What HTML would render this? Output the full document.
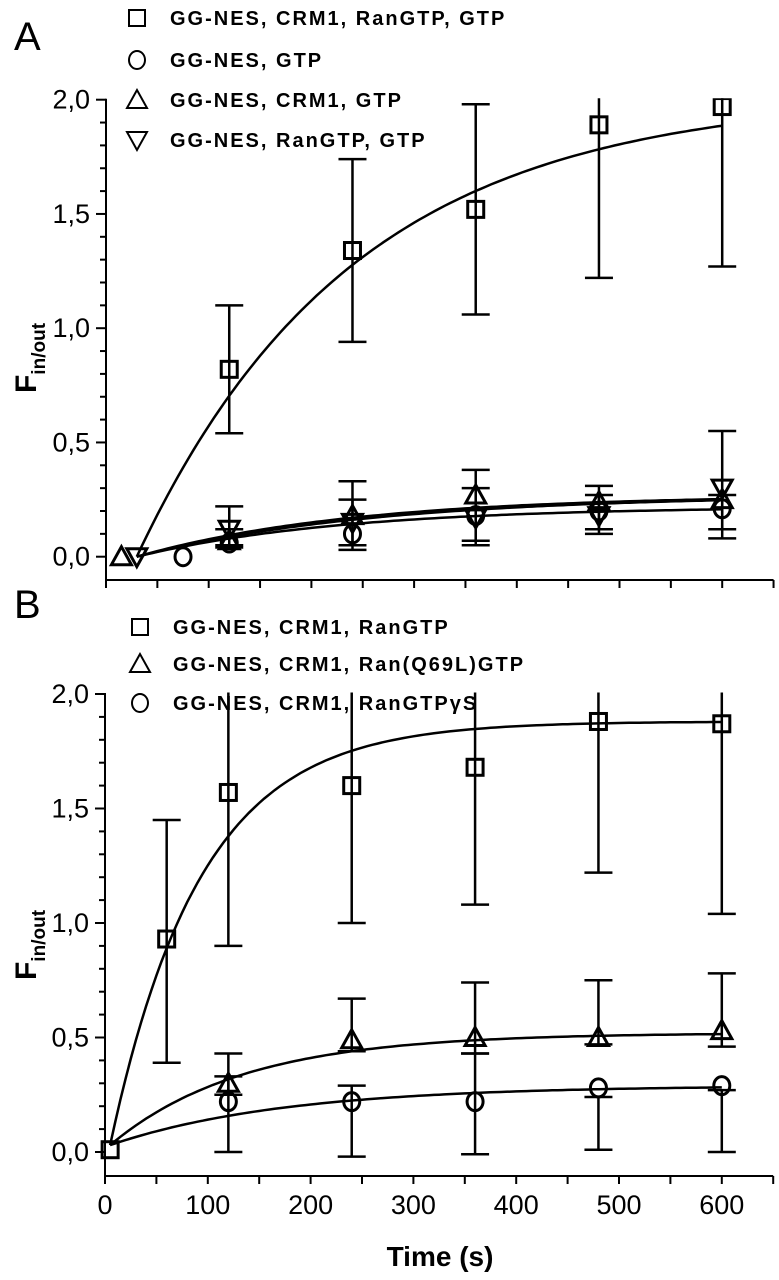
<!DOCTYPE html>
<html><head><meta charset="utf-8"><style>
html,body{margin:0;padding:0;background:#fff;}
svg{display:block;}
text{font-family:"Liberation Sans",sans-serif;fill:#000;}
</style></head><body>
<svg id="fig" width="779" height="1280" viewBox="0 0 779 1280" xmlns="http://www.w3.org/2000/svg"></svg>
<script>
// ---- Panel A data ----
const timesA = [120, 240, 360, 480, 600];
const sqA = [0.82, 1.34, 1.52, 1.89, 1.97];
const sqAlo = [0.54, 0.94, 1.06, 1.22, 1.27];
const sqAhi = [1.10, 1.74, 1.98, 2.56, 2.67];
const ciA = [0.06, 0.10, 0.18, 0.20, 0.21];
const triA = [0.07, 0.18, 0.27, 0.24, 0.25];
const dtriA = [0.12, 0.15, 0.17, 0.18, 0.30];
const errAlo = [0.05, 0.03, 0.05, 0.10, 0.08];
const errAhi = [0.22, 0.33, 0.38, 0.31, 0.55];
const errAlo2 = [0.04, 0.05, 0.07, 0.12, 0.12];
const errAhi2 = [0.12, 0.25, 0.30, 0.27, 0.27];
const earlyA = [[15, 0, 'tri'], [30, 0, 'dtri'], [75, 0, 'circle']];
// fit params [amplitude, tau, t0]
const fitA = [[2.02, 210, 30], [0.27, 210, 30], [0.27, 230, 30], [0.22, 200, 30]];
// ---- Panel B data ----
const timesB = [60, 120, 240, 360, 480, 600];
const sqB = [0.93, 1.57, 1.60, 1.68, 1.88, 1.87];
const sqBlo = [0.39, 0.90, 1.00, 1.08, 1.22, 1.04];
const sqBhi = [1.45, 2.24, 2.20, 2.28, 2.54, 2.70];
const timesB2 = [120, 240, 360, 480, 600];
const triB = [0.30, 0.49, 0.50, 0.50, 0.53];
const triBlo = [0.25, 0.44, 0.43, 0.47, 0.46];
const triBhi = [0.43, 0.67, 0.74, 0.75, 0.78];
const ciB = [0.22, 0.22, 0.22, 0.28, 0.29];
const ciBlo = [0.00, -0.02, -0.01, 0.01, 0.00];
const ciBhi = [0.33, 0.29, 0.43, 0.24, 0.27];
const fitB = [[1.85, 88, 5], [0.49, 130, 5], [0.26, 170, 5]];
const yTicks = [0, 0.5, 1.0, 1.5, 2.0];
const yTickLabels = ['0,0', '0,5', '1,0', '1,5', '2,0'];
const xTicks = [0, 100, 200, 300, 400, 500, 600];

const NS = 'http://www.w3.org/2000/svg';
const svg = document.getElementById('fig');
function mk(tag, attrs, parent) {
  const e = document.createElementNS(NS, tag);
  for (const k in attrs) e.setAttribute(k, attrs[k]);
  (parent || svg).appendChild(e);
  return e;
}
function panel(cfg) {
  const g = mk('g', {});
  
  
  const X = t => cfg.x0 + t * cfg.xs;
  const Y = v => cfg.y0 - v * cfg.ys;
  const top = Y(2.0);
  const clipId = cfg.name + '-clip';
  const cp = mk('clipPath', {id: clipId}, g);
  mk('rect', {x: cfg.x0 - 20, y: top - 1.5, width: 700, height: cfg.axisY - top + 20}, cp);
  // axes
  const ya = mk('line', {x1: cfg.x0, y1: top - 1, x2: cfg.x0, y2: cfg.axisY, stroke: '#000', 'stroke-width': 2}, g);
  
  
  const xa = mk('line', {x1: cfg.x0 - 1, y1: cfg.axisY, x2: X(650), y2: cfg.axisY, stroke: '#000', 'stroke-width': 2}, g);
  
  
  for (let i = 0; i <= 20; i++) {
    const v = i / 10; const yy = Y(v);
    const major = i % 5 === 0;
    mk('line', {x1: cfg.x0 - (major ? 10 : 6), y1: yy, x2: cfg.x0, y2: yy, stroke: '#000', 'stroke-width': 2}, g);
  }
  yTicks.forEach((v, i) => {
    const t = mk('text', {x: cfg.x0 - 16, y: Y(v) + 9, 'font-size': 27, 'text-anchor': 'end'}, g);
    t.textContent = yTickLabels[i];
    
    
  });
  for (let t = 0; t <= 650; t += 50) {
    mk('line', {x1: X(t), y1: cfg.axisY, x2: X(t), y2: cfg.axisY + 8, stroke: '#000', 'stroke-width': 2}, g);
  }
  if (cfg.xLabels) xTicks.forEach(t => {
    const tx = mk('text', {x: X(t), y: cfg.axisY + 38, 'font-size': 27, 'text-anchor': 'middle'}, g);
    tx.textContent = String(t);
    
    
  });
  const yt = mk('text', {transform: `translate(${cfg.titleX},${cfg.titleY}) rotate(-90)`, 'font-size': 30, 'font-weight': 'bold', 'text-anchor': 'middle'}, g);
  
  
  yt.innerHTML = 'F<tspan font-size="19" dy="9">in/out</tspan>';
  const pl = mk('text', {x: 14, y: cfg.letterY, 'font-size': 40}, g);
  pl.textContent = cfg.letter;
  
  
  const plot = mk('g', {'clip-path': `url(#${clipId})`}, g);
  cfg.fits.forEach(f => {
    let d = '';
    for (let t = f[2]; t <= 600; t += 5) {
      const v = f[0] * (1 - Math.exp(-(t - f[2]) / f[1])) + (cfg.fitBase || 0);
      d += (d ? 'L' : 'M') + X(t).toFixed(1) + ',' + Y(v).toFixed(1);
    }
    const p = mk('path', {d, fill: 'none', stroke: '#000', 'stroke-width': 2.5}, plot);
    
    
  });
  return {g, plot, X, Y};
}
function errbar(p, t, lo, hi) {
  const x = p.X(t);
  const e = mk('g', {stroke: '#000', 'stroke-width': 2.5}, p.plot);
  
  
  mk('line', {x1: x, y1: p.Y(lo), x2: x, y2: p.Y(hi)}, e);
  mk('line', {x1: x - 14, y1: p.Y(lo), x2: x + 14, y2: p.Y(lo)}, e);
  mk('line', {x1: x - 14, y1: p.Y(hi), x2: x + 14, y2: p.Y(hi)}, e);
}
function marker(parent, x, y, type) {
  let m;
  const st = {fill: 'none', stroke: '#000', 'stroke-width': 3};
  if (type === 'square') m = mk('rect', Object.assign({x: x - 8, y: y - 8, width: 16, height: 16}, st), parent);
  else if (type === 'circle') m = mk('ellipse', Object.assign({cx: x, cy: y, rx: 8, ry: 9}, st), parent);
  else if (type === 'tri') m = mk('polygon', Object.assign({points: `${x},${y - 10} ${x - 10},${y + 8} ${x + 10},${y + 8}`}, st), parent);
  else m = mk('polygon', Object.assign({points: `${x},${y + 10} ${x - 10},${y - 8} ${x + 10},${y - 8}`}, st), parent);
  
  
  return m;
}
function legend(items, x, ys) {
  items.forEach((it, i) => {
    const lg = mk('g', {});
    
    
    marker(lg, x, ys[i], it[0]).setAttribute('stroke-width', 2);
    const t = mk('text', {x: x + 33, y: ys[i] + 7, 'font-size': 20, 'font-weight': 'bold', 'letter-spacing': 2}, lg);
    t.innerHTML = it[1];
  });
}
// Panel A
const A = panel({name: 'panel-a', x0: 106, xs: 1.027, y0: 556.7, ys: 228.5, axisY: 580, xLabels: false,
  titleX: 36, titleY: 358, letter: 'A', letterY: 50, fits: fitA});
timesA.forEach((t, i) => errbar(A, t, sqAlo[i], sqAhi[i]));
timesA.forEach((t, i) => { errbar(A, t, errAlo[i], errAhi[i]); errbar(A, t, errAlo2[i], errAhi2[i]); });
earlyA.forEach(e => marker(A.plot, A.X(e[0]), A.Y(e[1]), e[2]));
timesA.forEach((t, i) => {
  marker(A.plot, A.X(t), A.Y(sqA[i]), 'square');
  marker(A.plot, A.X(t), A.Y(ciA[i]), 'circle');
  marker(A.plot, A.X(t), A.Y(triA[i]), 'tri');
  marker(A.plot, A.X(t), A.Y(dtriA[i]), 'dtri');
});
legend([['square', 'GG-NES, CRM1, RanGTP, GTP'], ['circle', 'GG-NES, GTP'], ['tri', 'GG-NES, CRM1, GTP'], ['dtri', 'GG-NES, RanGTP, GTP']],
  137, [18, 60, 100, 140]);
// Panel B
const B = panel({name: 'panel-b', x0: 105, xs: 1.028, y0: 1152, ys: 229, axisY: 1176, xLabels: true,
  titleX: 36, titleY: 945, letter: 'B', letterY: 618, fits: fitB, fitBase: 0.03});
timesB.forEach((t, i) => errbar(B, t, sqBlo[i], sqBhi[i]));
timesB2.forEach((t, i) => { errbar(B, t, triBlo[i], triBhi[i]); errbar(B, t, ciBlo[i], ciBhi[i]); });
marker(B.plot, B.X(5), B.Y(0.01), 'square');
timesB.forEach((t, i) => marker(B.plot, B.X(t), B.Y(sqB[i]), 'square'));
timesB2.forEach((t, i) => {
  marker(B.plot, B.X(t), B.Y(triB[i]), 'tri');
  marker(B.plot, B.X(t), B.Y(ciB[i]), 'circle');
});
legend([['square', 'GG-NES, CRM1, RanGTP'], ['tri', 'GG-NES, CRM1, Ran(Q69L)GTP'], ['circle', 'GG-NES, CRM1, RanGTP&#947;S']],
  140, [627, 664, 703]);
const xt = mk('text', {x: 440, y: 1266, 'font-size': 28, 'font-weight': 'bold', 'text-anchor': 'middle'});
xt.textContent = 'Time (s)';


</script>
</body></html>
